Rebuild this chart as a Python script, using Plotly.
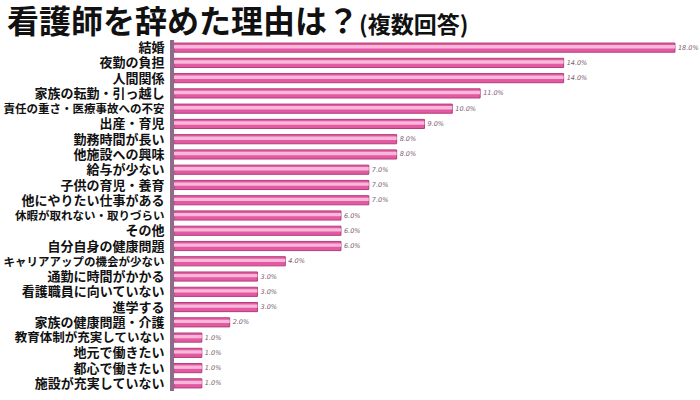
import plotly.graph_objects as go

categories = [
    "結婚", "夜勤の負担", "人間関係", "家族の転勤・引っ越し", "責任の重さ・医療事故への不安",
    "出産・育児", "勤務時間が長い", "他施設への興味", "給与が少ない", "子供の育児・養育",
    "他にやりたい仕事がある", "休暇が取れない・取りづらい", "その他", "自分自身の健康問題",
    "キャリアアップの機会が少ない", "通勤に時間がかかる", "看護職員に向いていない", "進学する",
    "家族の健康問題・介護", "教育体制が充実していない", "地元で働きたい", "都心で働きたい",
    "施設が充実していない",
]
values = [18.0, 14.0, 14.0, 11.0, 10.0, 9.0, 8.0, 8.0, 7.0, 7.0, 7.0, 6.0, 6.0, 6.0,
          4.0, 3.0, 3.0, 3.0, 2.0, 1.0, 1.0, 1.0, 1.0]

# smaller font for the long labels (style, kept separate from data)
small_sizes = {
    "責任の重さ・医療事故への不安": 11.5,
    "休暇が取れない・取りづらい": 11.5,
    "キャリアアップの機会が少ない": 11.5,
    "教育体制が充実していない": 12.5,
}

ticktext = []
for c in categories:
    s = small_sizes.get(c)
    if s:
        ticktext.append(f"<span style='font-size:{s}px'><b>{c}</b></span>")
    else:
        ticktext.append(f"<b>{c}</b>")

labels = [f"{v:.1f}%" for v in values]

fig = go.Figure()
fig.add_trace(go.Bar(
    y=categories, x=values, orientation="h",
    width=0.6,
    marker=dict(color="#e35aa2", line=dict(color="#b23e7c", width=1)),
    text=labels, textposition="outside", cliponaxis=False,
    textfont=dict(size=6.5, color="#7a5a6e", family="DejaVu Sans", style="italic"),
    hoverinfo="skip",
))
fig.add_trace(go.Bar(
    y=categories, x=values, orientation="h",
    width=0.22, offset=-0.17,
    marker=dict(color="#f7b8d9", line=dict(width=0)),
    hoverinfo="skip",
))

fig.update_layout(
    width=700, height=400,
    margin=dict(l=174, r=0, t=40, b=9),
    paper_bgcolor="white", plot_bgcolor="white",
    barmode="overlay", showlegend=False,
    font=dict(family="Noto Sans CJK JP", color="#111"),
    title=dict(
        text="<b>看護師を辞めた理由は？</b><span style='font-size:23px'><b>(複数回答)</b></span>",
        font=dict(size=32, color="#111", family="Noto Sans CJK JP"),
        x=0.01, xanchor="left", xref="container",
        y=0.945, yanchor="middle", yref="container",
    ),
    xaxis=dict(range=[0, 18.9], visible=False, fixedrange=True),
    yaxis=dict(
        categoryorder="array", categoryarray=categories,
        autorange="reversed",
        tickmode="array", tickvals=categories, ticktext=ticktext,
        tickfont=dict(size=13, color="#111", family="Noto Sans CJK JP"),
        ticks="", ticklabelstandoff=3,
        showline=True, linecolor="#8c6c86", linewidth=4,
        showgrid=False, zeroline=False,
    ),
)

fig.write_html("out.html")
